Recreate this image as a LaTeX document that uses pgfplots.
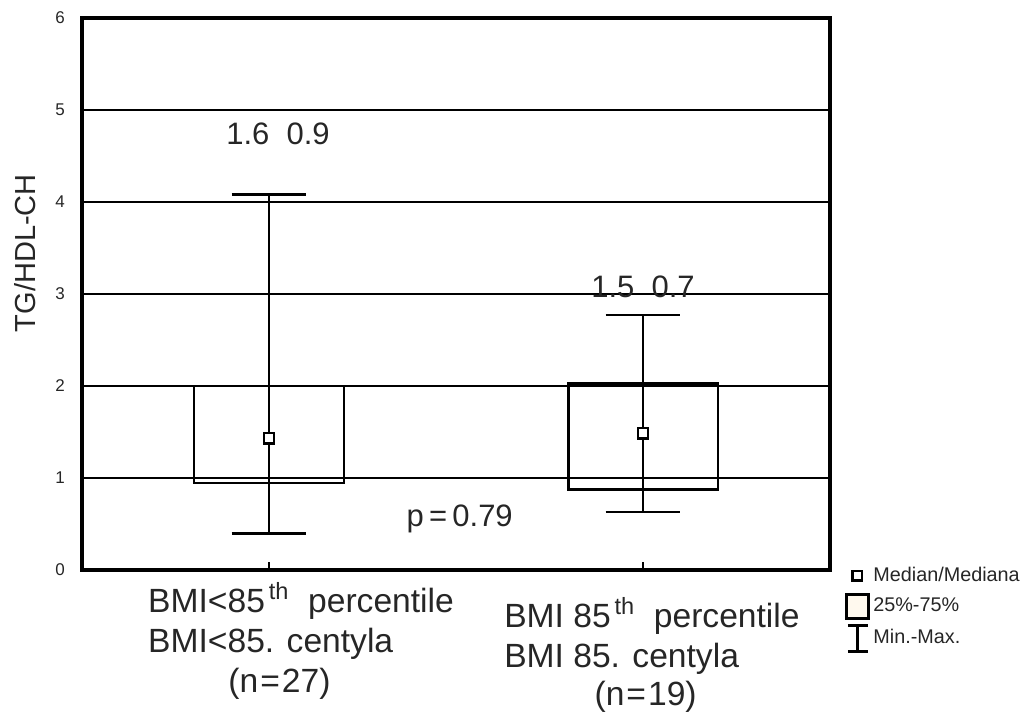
\documentclass[border=0pt]{standalone}
\usepackage{pgfplots}
\pgfplotsset{compat=1.18}
\usepackage{fontspec}
\setmainfont{Liberation Sans}
\definecolor{cream}{RGB}{255,249,238}
\begin{document}
\begin{tikzpicture}
\path[use as bounding box] (-41pt,-72pt) rectangle (475.5pt,285pt);
\begin{axis}[
  scale only axis, width=374pt, height=276pt,
  xmin=0.5, xmax=2.5, ymin=0, ymax=6,
  xtick={1,2}, xticklabels={}, xtick pos=left, tick align=inside,
  major tick length=4pt,
  xtick style={black, line width=1.3pt},
  ytick={0,1,2,3,4,5,6}, ytick style={draw=none},
  ymajorgrids, grid style={black, line width=1.35pt},
  axis line style={line width=1.7pt},
  yticklabel style={font=\fontsize{8.5}{10}\selectfont, xshift=-5pt, text=black!85},
  /pgf/number format/assume math mode=true,
  clip=false,
  legend style={at={(rel axis cs:1.02,0.014)}, anchor=north west, draw=none, fill=none,
    inner sep=0pt, font=\fontsize{9.9}{11}\selectfont, row sep=2pt,
    nodes={inner sep=1.5pt, text=black!85}},
  legend cell align=left,
]
% legend glyphs
\addlegendimage{legend image code/.code={\path[draw=none,fill=none] (0pt,-6.5pt) rectangle (12pt,6.5pt);
   \draw[black, line width=1.2pt, fill=white] (3.4pt,-2.4pt) rectangle (8.2pt,2.4pt);}}
\addlegendentry{Median/Mediana}
\addlegendimage{legend image code/.code={\path[draw=none,fill=none] (0pt,-6.5pt) rectangle (12pt,6.5pt);
   \draw[black, line width=1.5pt, fill=cream] (0.5pt,-6pt) rectangle (11.5pt,6pt);}}
\addlegendentry{25\%-75\%}
\addlegendimage{legend image code/.code={\path[draw=none,fill=none] (0pt,-6.5pt) rectangle (12pt,6.5pt);
   \draw[black, line width=1.5pt] (1pt,6.5pt)--(11pt,6.5pt) (6pt,6.5pt)--(6pt,-6.5pt) (1pt,-6.5pt)--(11pt,-6.5pt);}}
\addlegendentry{Min.-Max.}

% group 1: min 0.40, q1 0.945, med 1.43, q3 2.00, max 4.08
\addplot[black, line width=1.3pt, forget plot] coordinates {(1,0.40) (1,4.08)};
\addplot[black, line width=1.3pt, forget plot] coordinates {(0.9,4.08) (1.1,4.08)};
\addplot[black, line width=1.3pt, forget plot] coordinates {(0.9,0.40) (1.1,0.40)};
\addplot[black, line width=1.3pt, forget plot, line join=miter] coordinates {(0.8,0.945) (1.2,0.945) (1.2,2.00) (0.8,2.00) (0.8,0.945) (1.2,0.945)};
% group 2: min 0.63, q1 0.877, med 1.486, q3 2.03, max 2.77
\addplot[black, line width=1.3pt, forget plot] coordinates {(2,0.63) (2,2.77)};
\addplot[black, line width=1.3pt, forget plot] coordinates {(1.9,2.77) (2.1,2.77)};
\addplot[black, line width=1.3pt, forget plot] coordinates {(1.9,0.63) (2.1,0.63)};
\addplot[black, line width=1.3pt, forget plot, line join=miter] coordinates {(1.8,0.877) (2.2,0.877) (2.2,2.03) (1.8,2.03) (1.8,0.877) (2.2,0.877)};
% medians
\addplot[only marks, mark=square*, mark size=2.6pt, mark options={fill=white, draw=black, line width=1.2pt}, forget plot] coordinates {(1,1.43) (2,1.486)};

% annotations
\node[anchor=base, font=\fontsize{15.5}{18}\selectfont, text=black!85] at (axis cs:1.024,4.62) {1.6~~0.9};
\node[anchor=base, font=\fontsize{15.5}{18}\selectfont, text=black!85] at (axis cs:2.0,2.96) {1.5~~0.7};
\node[anchor=base, font=\fontsize{15.5}{18}\selectfont, text=black!85] at (axis cs:1.51,0.47) {p\,=\,0.79};

% y label
\node[rotate=90, font=\fontsize{14.5}{17}\selectfont, text=black!85] at ([xshift=-28.5pt]rel axis cs:0,0.574) {TG/HDL-CH};

% category labels
\begin{scope}[every node/.style={font=\fontsize{16.8}{20}\selectfont, text=black!85, inner sep=0pt}]
\node[anchor=base west] at (axis cs:0.676,-0.457) {BMI<85\textsuperscript{\,th}\ \ percentile};
\node[anchor=base west] at (axis cs:0.676,-0.902) {BMI<85. centyla};
\node[anchor=base] at (axis cs:1.028,-1.326) {(n\kern1pt=\kern1pt27)};
\node[anchor=base west] at (axis cs:1.628,-0.620) {BMI 85\textsuperscript{\,th}\ \ percentile};
\node[anchor=base west] at (axis cs:1.628,-1.065) {BMI 85. centyla};
\node[anchor=base] at (axis cs:2.007,-1.478) {(n\kern1pt=\kern1pt19)};
\end{scope}
\end{axis}
\end{tikzpicture}
\end{document}
